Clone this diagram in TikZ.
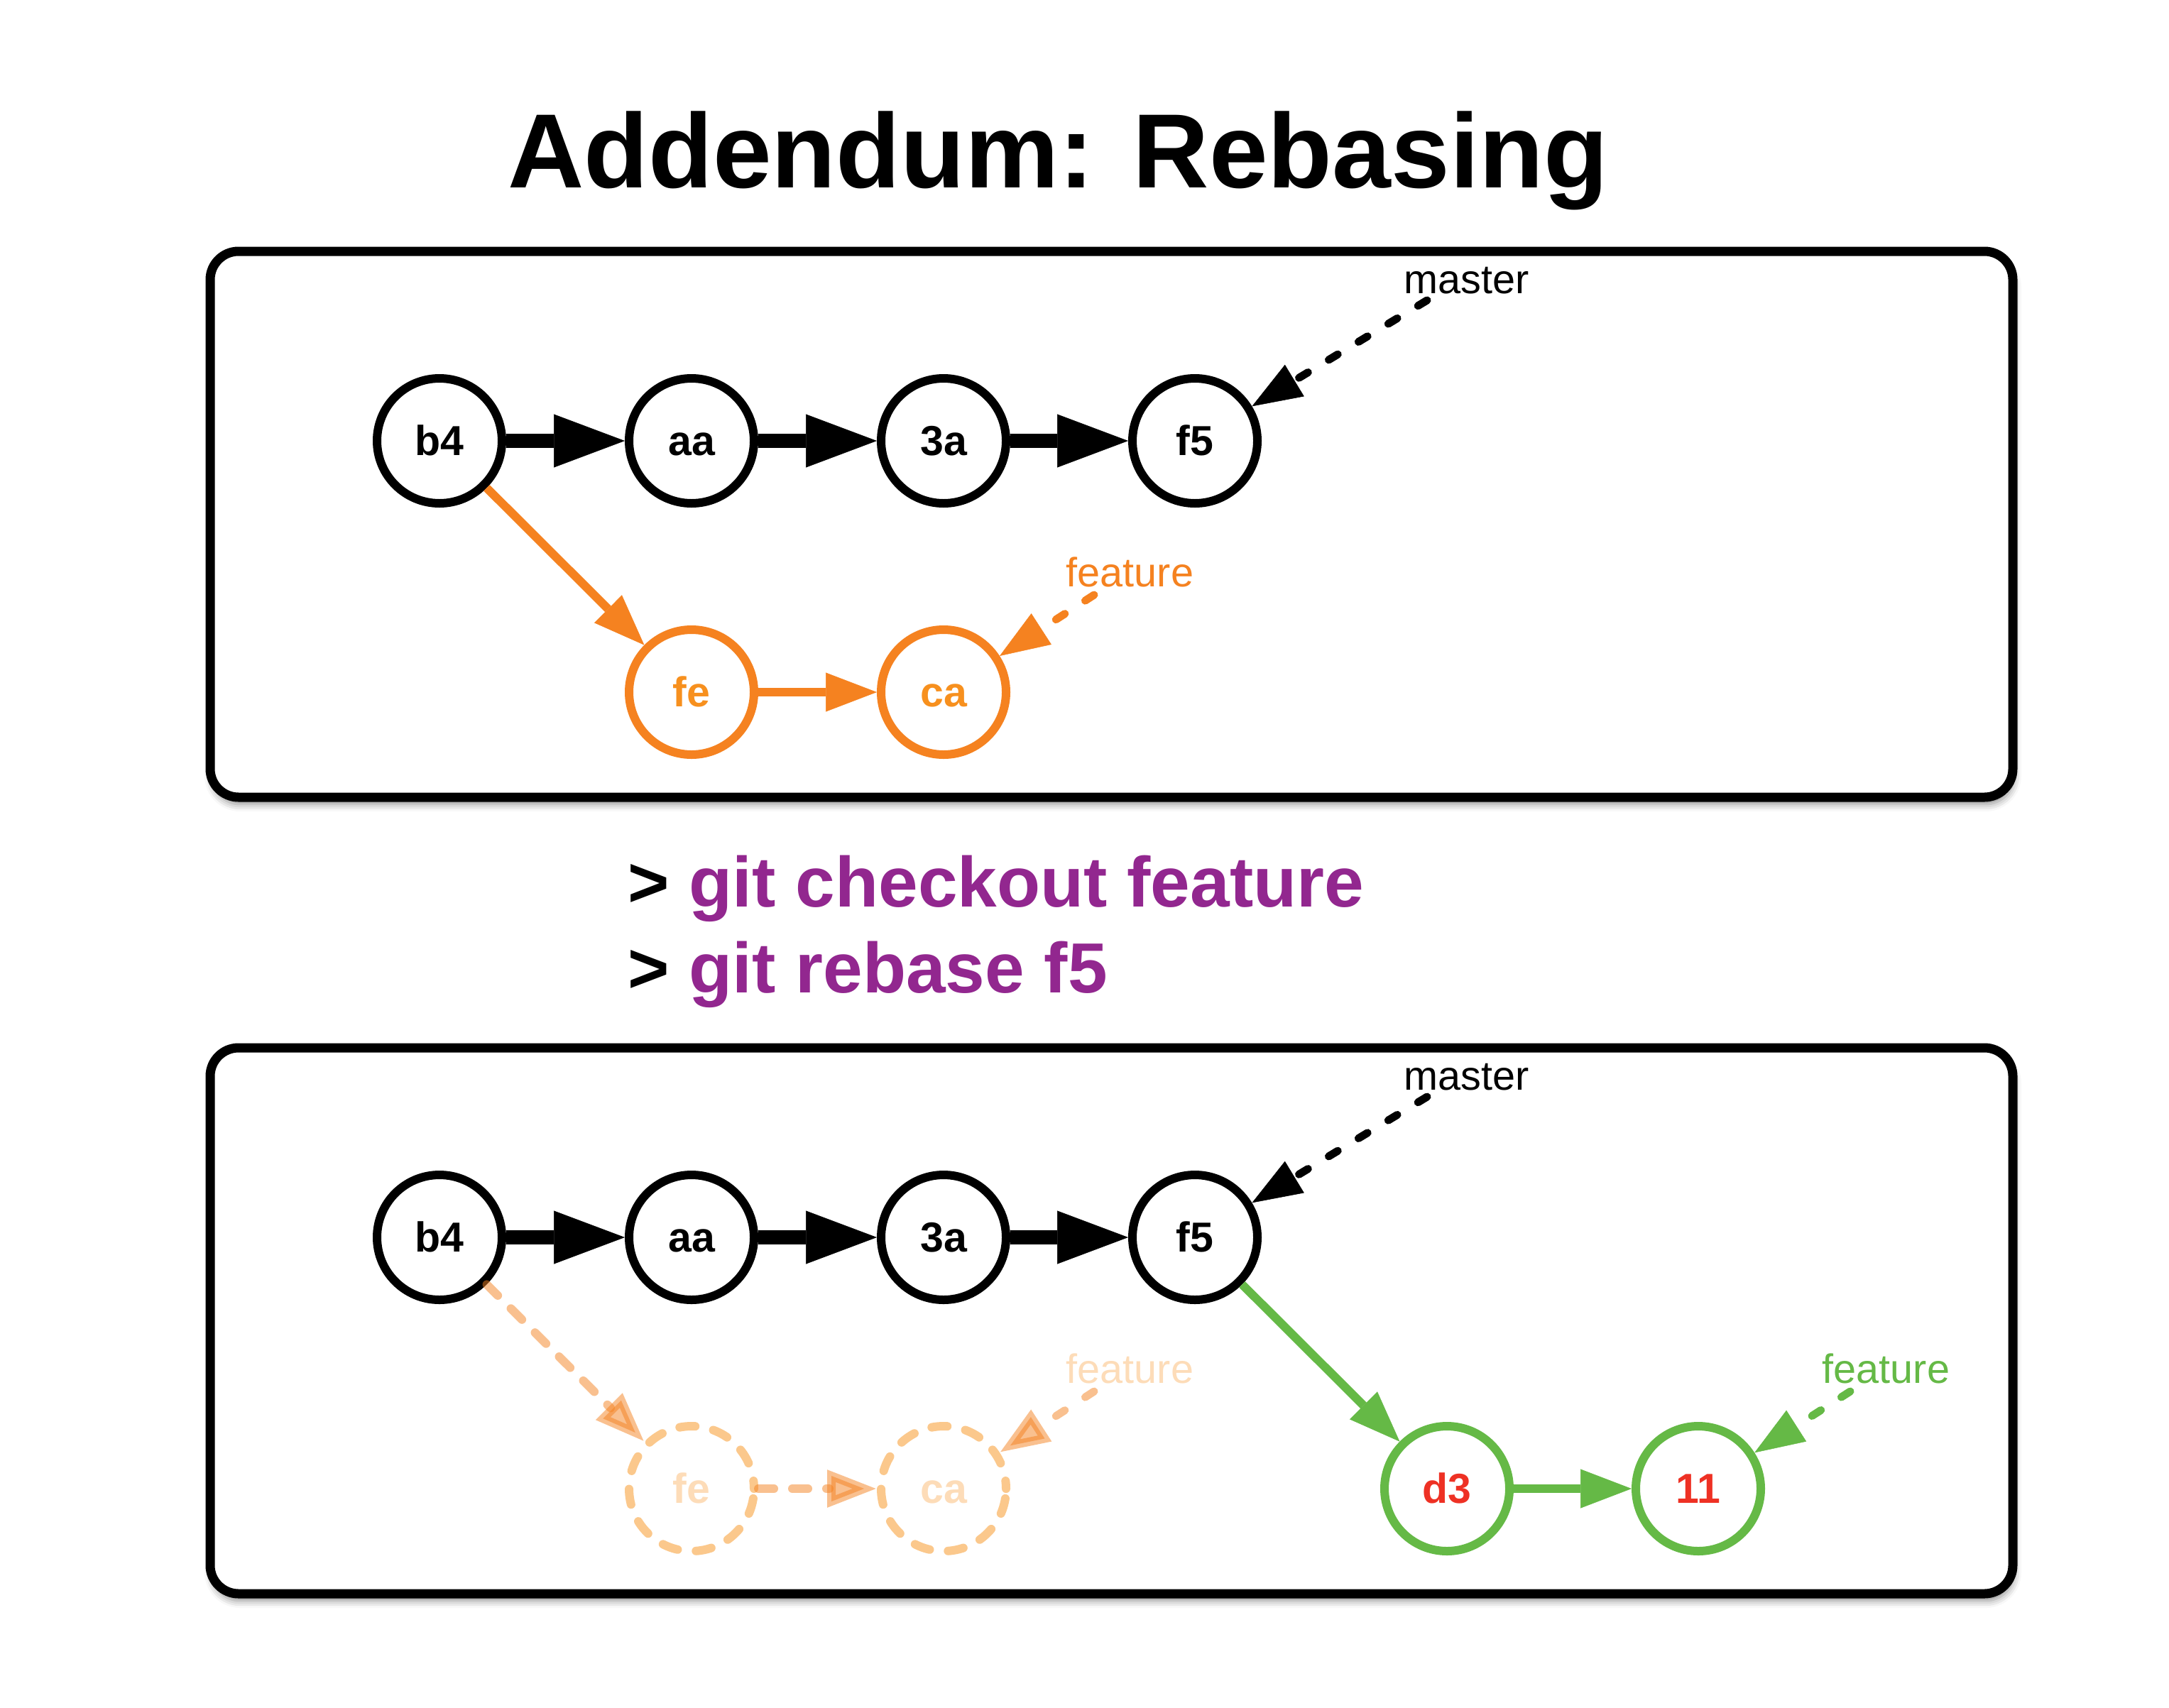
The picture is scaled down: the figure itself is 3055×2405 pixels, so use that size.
\documentclass[tikz,border=0pt]{standalone}
\usepackage{fontspec}
\setmainfont{Liberation Sans}
\usetikzlibrary{arrows.meta,shadows,shadows.blur}
\definecolor{gorange}{HTML}{F58220}
\definecolor{gotext}{HTML}{F7901E}
\definecolor{ggreen}{HTML}{65B946}
\definecolor{gred}{HTML}{EE3124}
\definecolor{gpurple}{HTML}{92278F}
\definecolor{fadeline}{HTML}{FBC88C}
\definecolor{fadetext}{HTML}{FDDCB8}
\begin{document}
\begin{tikzpicture}[x=0.1mm,y=-0.1mm,
  panel/.style={line width=1.3mm, rounded corners=4mm, fill=white,
    blur shadow={shadow xshift=0.2mm, shadow yshift=-1mm, shadow blur radius=1mm, shadow opacity=45}},
  commit/.style={circle, draw, line width=1.2mm, minimum size=17.6mm, inner sep=0pt,
    text height=11.9pt, text depth=0pt,
    font=\fontsize{16.8}{18}\selectfont\bfseries},
  orcommit/.style={commit, draw=gorange, text=gotext},
  grcommit/.style={commit, draw=ggreen, text=gred},
  facommit/.style={commit, draw=fadeline, text=fadetext, line cap=round, dash pattern=on 2.2mm off 2.6mm, dash phase=1.1mm},
  blabel/.style={anchor=base west, inner sep=0pt, font=\fontsize{16.4}{18}\selectfont},
  blk/.style={line width=2mm, -{Triangle[length=10mm, width=7.5mm, line width=0.05mm, fill=black]}},
  colarr/.style={line width=1.2mm, -{Triangle[length=7.2mm, width=5.5mm, line width=0.05mm]}},
  ptr/.style={line width=1.1mm, line cap=round, dash pattern=on 1.5mm off 3.4mm,
    -{Triangle[length=7mm, width=5.2mm, line width=0.05mm]}},
  blkptr/.style={line width=1.1mm, line cap=round, dash pattern=on 1.5mm off 3.4mm,
    -{Triangle[length=7mm, width=5.2mm, line width=0.05mm, fill=black]}},
  fadearr/.style={gorange, line width=1.2mm, draw opacity=0.5, fill opacity=0.5, line cap=round,
    dash pattern=on 2.2mm off 2.6mm, -{Triangle[length=7mm, width=5mm, line width=1.2mm]}},
  fadeptr/.style={gorange, line width=1.1mm, draw opacity=0.5, fill opacity=0.5, line cap=round,
    dash pattern=on 1.5mm off 3.4mm, -{Triangle[length=7mm, width=5mm, line width=1.2mm]}}
]
\useasboundingbox (0,0) rectangle (3055,2405);

% title
\node[anchor=base, inner sep=0pt, font=\fontsize{42.3}{48}\selectfont\bfseries] (title) at (1490,264) {Addendum: Rebasing};

% panels
\draw[panel] (296,354) rectangle (2835,1123);
\draw[panel] (296,1476) rectangle (2835,2245);

% commands
\node[anchor=base west, inner sep=0pt, font=\fontsize{28.45}{32}\selectfont\bfseries] (cmd1) at (884,1277) {> \textcolor{gpurple}{git checkout feature}};
\node[anchor=base west, inner sep=0pt, font=\fontsize{28.45}{32}\selectfont\bfseries] (cmd2) at (884,1398) {> \textcolor{gpurple}{git rebase f5}};

% ---- top panel ----
\node[commit] (b4) at (619,621) {b4};
\node[commit] (aa) at (974,621) {aa};
\node[commit] (3a) at (1329,621) {3a};
\node[commit] (f5) at (1683,621) {f5};
\node[orcommit] (fe) at (974,975) {fe};
\node[orcommit] (ca) at (1329,975) {ca};

\node[blabel] (master1) at (1977,413) {master};
\node[blabel, text=gorange] (feature1) at (1501,826) {feature};
\coordinate (pm1) at (2010,423);
\coordinate (pf1) at (1541,838);

\draw[blk] (b4) -- (aa);
\draw[blk] (aa) -- (3a);
\draw[blk] (3a) -- (f5);
\draw[colarr, gorange] (b4) -- (fe);
\draw[colarr, gorange] (fe) -- (ca);
\draw[blkptr] (pm1) -- (f5);
\draw[ptr, gorange] (pf1) -- (ca);

% ---- bottom panel ----
\node[commit] (b4b) at (619,1743) {b4};
\node[commit] (aab) at (974,1743) {aa};
\node[commit] (3ab) at (1329,1743) {3a};
\node[commit] (f5b) at (1683,1743) {f5};
\node[facommit] (feb) at (974,2097) {fe};
\node[facommit] (cab) at (1329,2097) {ca};
\node[grcommit] (d3) at (2038,2097) {d3};
\node[grcommit] (e11) at (2392,2097) {11};

\node[blabel] (master2) at (1977,1535) {master};
\node[blabel, text=fadetext] (feature2) at (1501,1948) {feature};
\node[blabel, text=ggreen] (feature3) at (2566,1948) {feature};
\coordinate (pm2) at (2010,1545);
\coordinate (pf2) at (1541,1960);
\coordinate (pf3) at (2606,1960);

\draw[blk] (b4b) -- (aab);
\draw[blk] (aab) -- (3ab);
\draw[blk] (3ab) -- (f5b);
\draw[fadearr] (b4b) -- (feb);
\draw[fadearr] (feb) -- (cab);
\draw[fadeptr] (pf2) -- (cab);
\draw[colarr, ggreen] (f5b) -- (d3);
\draw[colarr, ggreen] (d3) -- (e11);
\draw[blkptr] (pm2) -- (f5b);
\draw[ptr, ggreen] (pf3) -- (e11);
\end{tikzpicture}
\end{document}
